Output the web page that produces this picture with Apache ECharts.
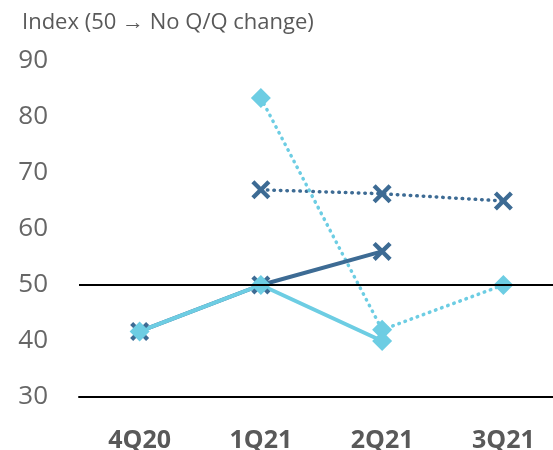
<!DOCTYPE html>
<html>
<head>
<meta charset="utf-8">
<script src="https://cdn.jsdelivr.net/npm/echarts@6/dist/echarts.min.js"></script>
<style>
  html, body { margin: 0; padding: 0; background: #fff; }
  #chart { width: 553px; height: 450px; }
</style>
</head>
<body>
<div id="chart"></div>
<script>
// Quarter categories and index values (50 = no quarter-on-quarter change)
const quarters = ['4Q20', '1Q21', '2Q21', '3Q21'];
const darkActual = [41.7, 50, 56, null];
const lightActual = [41.7, 50, 40, null];
const darkExpected = [null, 67, 66.3, 65];
const lightExpected = [null, 83.4, 42, 50];
const yTicks = { min: 30, max: 90, step: 10 };

const DARK = '#3d6b94';
const LIGHT = '#6dcde3';
const FONT = 'Open Sans';

// Filled X-shaped marker
const crossPath = 'path://M0,1.6L1.6,0L5,3.4L8.4,0L10,1.6L6.6,5L10,8.4L8.4,10L5,6.6L1.6,10L0,8.4L3.4,5Z';

function lineSeries(name, data, color, dotted, symbol, size) {
  return {
    name: name,
    type: 'line',
    data: data,
    symbol: symbol,
    symbolSize: size,
    connectNulls: false,
    itemStyle: { color: color },
    lineStyle: dotted
      ? { color: color, width: 3.5, type: [0.5, 6], cap: 'round' }
      : { color: color, width: 4 },
    emphasis: { disabled: true },
    z: dotted ? 3 : 4
  };
}

const chart = echarts.init(document.getElementById('chart'), null, { renderer: 'canvas' });
chart.setOption({
  animation: false,
  title: {
    text: 'Index (50 \u2192 No Q/Q change)',
    left: 17, top: 7,
    textStyle: { fontFamily: FONT, fontSize: 22, fontWeight: 'normal', color: '#595959' }
  },
  grid: { left: 79, right: -11, top: 61, bottom: 53, outerBoundsMode: 'none', containLabel: false },
  xAxis: {
    type: 'category',
    data: quarters,
    boundaryGap: true,
    axisLine: { lineStyle: { color: '#000', width: 2 } },
    axisTick: { show: false },
    axisLabel: { fontFamily: FONT, fontSize: 25, fontWeight: 'bold', color: '#595959', margin: 31 }
  },
  yAxis: {
    type: 'value',
    min: yTicks.min, max: yTicks.max, interval: yTicks.step,
    axisLine: { show: false },
    axisTick: { show: false },
    splitLine: { show: false },
    axisLabel: { fontFamily: FONT, fontSize: 26, color: '#666', margin: 31 }
  },
  series: [
    Object.assign(lineSeries('Dark expected', darkExpected, DARK, true, crossPath, 19), {
      markLine: {
        silent: true,
        symbol: 'none',
        label: { show: false },
        lineStyle: { color: '#000', width: 2, type: 'solid' },
        data: [{ yAxis: 50 }]
      }
    }),
    lineSeries('Light expected', lightExpected, LIGHT, true, 'diamond', 20),
    lineSeries('Dark actual', darkActual, DARK, false, crossPath, 19),
    lineSeries('Light actual', lightActual, LIGHT, false, 'diamond', 20)
  ]
});
</script>
</body>
</html>
